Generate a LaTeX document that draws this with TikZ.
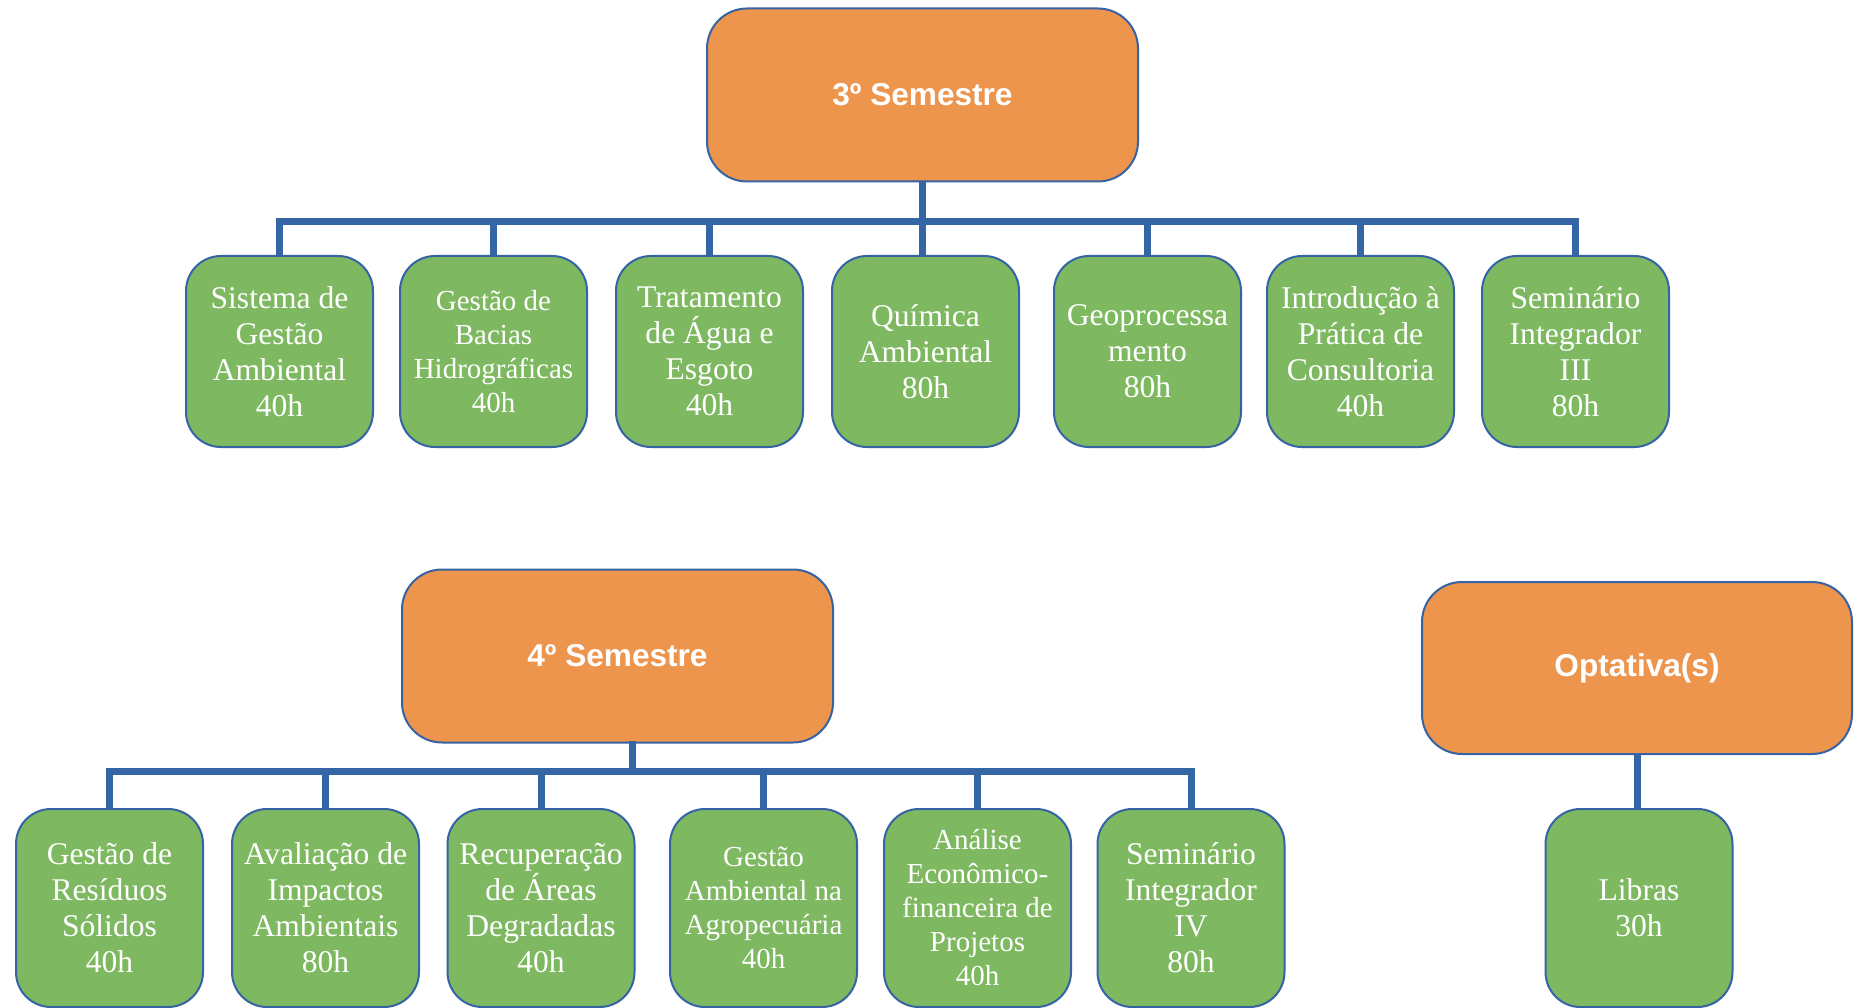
\documentclass[tikz,border=0pt]{standalone}
\usepackage{fontspec}
\setmainfont{Liberation Serif}
\newfontfamily\headfont{Liberation Sans}
\definecolor{boxorange}{HTML}{ED944D}
\definecolor{boxgreen}{HTML}{7EB961}
\definecolor{edgeblue}{HTML}{3563A3}
\definecolor{connblue}{HTML}{3465A4}
\tikzset{
  hdr/.style={draw=edgeblue, line width=2pt, fill=boxorange, rounded corners=40pt,
    minimum width=431pt, minimum height=173pt, inner sep=0pt, text=white,
    font=\headfont\bfseries\fontsize{31.6}{36}\selectfont},
  course/.style={draw=edgeblue, line width=2pt, fill=boxgreen, rounded corners=35pt,
    minimum width=187pt, minimum height=191pt, inner sep=0pt, text=white, align=center,
    font=\fontsize{31.6}{36}\selectfont},
  smalltext/.style={font=\fontsize{29}{34}\selectfont},
  tall/.style={minimum height=198pt, execute at begin node={\rule{0pt}{31pt}}},
  conn/.style={draw=connblue, line width=7pt, line join=miter}
}
\begin{document}
\begin{tikzpicture}[x=1pt,y=-1pt]
\useasboundingbox (0,0) rectangle (1855,1008);
% 3rd semester
\node[hdr] (s3) at (922.5,95) {3º Semestre};
\node[course] (a1) at (279.5,351.5) {Sistema de\\Gestão\\Ambiental\\40h};
\node[course,smalltext] (a2) at (493.5,351.5) {Gestão de\\Bacias\\Hidrográficas\\40h};
\node[course] (a3) at (709.5,351.5) {Tratamento\\de Água e\\Esgoto\\40h};
\node[course] (a4) at (925.5,351.5) {Química\\Ambiental\\80h};
\node[course] (a5) at (1147.5,351.5) {Geoprocessa\\mento\\80h};
\node[course] (a6) at (1360.5,351.5) {Introdução à\\Prática de\\Consultoria\\40h};
\node[course] (a7) at (1575.5,351.5) {Seminário\\Integrador\\III\\80h};
\coordinate (bus3) at (0,222);
\draw[conn] (a1.north) -- (a1.north |- bus3) -- (a7.north |- bus3) -- (a7.north);
\draw[conn] (s3.south) -- (s3.south |- a4.north);
\foreach \n in {a2,a3,a5,a6} \draw[conn] (\n.north) -- (\n.north |- bus3);
% 4th semester
\node[hdr] (s4) at (617.5,656) {4º Semestre};
\node[course,tall] (b1) at (109.5,908) {Gestão de\\Resíduos\\Sólidos\\40h};
\node[course,tall] (b2) at (325.5,908) {Avaliação de\\Impactos\\Ambientais\\80h};
\node[course,tall] (b3) at (541,908) {Recuperação\\de Áreas\\Degradadas\\40h};
\node[course,tall,smalltext] (b4) at (763.5,908) {Gestão\\Ambiental na\\Agropecuária\\40h};
\node[course,tall,smalltext] (b5) at (977.5,908) {Análise\\Econômico-\\financeira de\\Projetos\\40h};
\node[course,tall] (b6) at (1191,908) {Seminário\\Integrador\\IV\\80h};
\coordinate (bus4) at (0,771);
\coordinate (t4) at (632.5,741);
\draw[conn] (b1.north) -- (b1.north |- bus4) -- (b6.north |- bus4) -- (b6.north);
\draw[conn] (t4) -- (t4 |- bus4);
\foreach \n in {b2,b3,b4,b5} \draw[conn] (\n.north) -- (\n.north |- bus4);
% optional
\node[hdr,minimum width=430pt,minimum height=172pt] (op) at (1637,668) {Optativa(s)};
\node[course,tall] (lib) at (1639,908) {Libras\\30h};
\draw[conn] (op.south) -- (op.south |- lib.north);
\end{tikzpicture}
\end{document}
